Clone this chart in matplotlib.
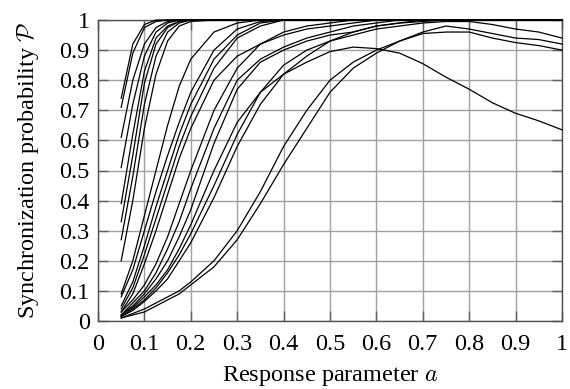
import matplotlib
matplotlib.use("Agg")
import matplotlib.pyplot as plt

plt.rcParams['font.family'] = ['Liberation Serif', 'DejaVu Serif']
plt.rcParams['mathtext.fontset'] = 'cm'

a_vals = [0.05, 0.075, 0.1, 0.125, 0.15, 0.175, 0.2, 0.25, 0.3, 0.35, 0.4, 0.45,
          0.5, 0.55, 0.6, 0.65, 0.7, 0.75, 0.8, 0.85, 0.9, 0.95, 1.0]

curves = {
    # fast group
    "A1": [0.74, 0.92, 0.985, 1.0, 1.0, 1.0, 1.0, 1.0, 1.0, 1.0, 1.0, 1.0, 1.0, 1.0, 1.0, 1.0, 1.0, 1.0, 1.0, 1.0, 1.0, 1.0, 1.0],
    "A2": [0.71, 0.89, 0.975, 0.995, 1.0, 1.0, 1.0, 1.0, 1.0, 1.0, 1.0, 1.0, 1.0, 1.0, 1.0, 1.0, 1.0, 1.0, 1.0, 1.0, 1.0, 1.0, 1.0],
    "A3": [0.61, 0.80, 0.92, 0.975, 0.995, 1.0, 1.0, 1.0, 1.0, 1.0, 1.0, 1.0, 1.0, 1.0, 1.0, 1.0, 1.0, 1.0, 1.0, 1.0, 1.0, 1.0, 1.0],
    "A4": [0.51, 0.72, 0.88, 0.96, 0.99, 1.0, 1.0, 1.0, 1.0, 1.0, 1.0, 1.0, 1.0, 1.0, 1.0, 1.0, 1.0, 1.0, 1.0, 1.0, 1.0, 1.0, 1.0],
    "A5": [0.39, 0.62, 0.83, 0.94, 0.98, 0.995, 1.0, 1.0, 1.0, 1.0, 1.0, 1.0, 1.0, 1.0, 1.0, 1.0, 1.0, 1.0, 1.0, 1.0, 1.0, 1.0, 1.0],
    "A6": [0.33, 0.55, 0.79, 0.92, 0.975, 0.995, 1.0, 1.0, 1.0, 1.0, 1.0, 1.0, 1.0, 1.0, 1.0, 1.0, 1.0, 1.0, 1.0, 1.0, 1.0, 1.0, 1.0],
    "A7": [0.27, 0.48, 0.72, 0.88, 0.96, 0.99, 1.0, 1.0, 1.0, 1.0, 1.0, 1.0, 1.0, 1.0, 1.0, 1.0, 1.0, 1.0, 1.0, 1.0, 1.0, 1.0, 1.0],
    "A8": [0.20, 0.40, 0.64, 0.82, 0.93, 0.98, 0.995, 1.0, 1.0, 1.0, 1.0, 1.0, 1.0, 1.0, 1.0, 1.0, 1.0, 1.0, 1.0, 1.0, 1.0, 1.0, 1.0],
    # medium-fast group
    "B1": [0.09, 0.20, 0.35, 0.50, 0.65, 0.78, 0.87, 0.96, 0.99, 1.0, 1.0, 1.0, 1.0, 1.0, 1.0, 1.0, 1.0, 1.0, 1.0, 1.0, 1.0, 1.0, 1.0],
    "B2": [0.08, 0.17, 0.30, 0.43, 0.55, 0.66, 0.76, 0.90, 0.97, 0.995, 1.0, 1.0, 1.0, 1.0, 1.0, 1.0, 1.0, 1.0, 1.0, 1.0, 1.0, 1.0, 1.0],
    "B3": [0.05, 0.13, 0.25, 0.38, 0.50, 0.62, 0.72, 0.87, 0.95, 0.99, 1.0, 1.0, 1.0, 1.0, 1.0, 1.0, 1.0, 1.0, 1.0, 1.0, 1.0, 1.0, 1.0],
    "B4": [0.04, 0.11, 0.22, 0.34, 0.46, 0.58, 0.68, 0.84, 0.94, 0.98, 1.0, 1.0, 1.0, 1.0, 1.0, 1.0, 1.0, 1.0, 1.0, 1.0, 1.0, 1.0, 1.0],
    "B5": [0.03, 0.09, 0.19, 0.30, 0.42, 0.54, 0.64, 0.80, 0.88, 0.92, 0.95, 0.97, 0.98, 0.99, 1.0, 1.0, 1.0, 1.0, 1.0, 1.0, 1.0, 1.0, 1.0],
    # middle group
    "C1": [0.03, 0.07, 0.12, 0.19, 0.28, 0.39, 0.50, 0.70, 0.84, 0.92, 0.96, 0.98, 0.99, 1.0, 1.0, 1.0, 1.0, 1.0, 1.0, 1.0, 1.0, 1.0, 1.0],
    "C2": [0.02, 0.06, 0.10, 0.16, 0.24, 0.33, 0.44, 0.64, 0.80, 0.87, 0.91, 0.94, 0.96, 0.98, 0.99, 1.0, 1.0, 1.0, 1.0, 1.0, 1.0, 1.0, 1.0],
    "C3": [0.02, 0.05, 0.09, 0.14, 0.20, 0.28, 0.37, 0.59, 0.77, 0.86, 0.90, 0.93, 0.95, 0.96, 0.98, 0.99, 1.0, 1.0, 1.0, 1.0, 1.0, 1.0, 1.0],
    "C4": [0.02, 0.045, 0.08, 0.12, 0.17, 0.24, 0.32, 0.50, 0.66, 0.76, 0.82, 0.86, 0.895, 0.91, 0.905, 0.89, 0.855, 0.81, 0.77, 0.725, 0.69, 0.665, 0.635],
    "C5": [0.015, 0.04, 0.07, 0.11, 0.16, 0.22, 0.29, 0.45, 0.62, 0.76, 0.85, 0.90, 0.93, 0.95, 0.97, 0.98, 0.99, 0.995, 0.995, 0.985, 0.97, 0.96, 0.94],
    "C6": [0.015, 0.035, 0.065, 0.10, 0.14, 0.20, 0.26, 0.41, 0.58, 0.72, 0.82, 0.88, 0.93, 0.96, 0.98, 0.99, 0.995, 1.0, 1.0, 1.0, 1.0, 1.0, 1.0],
    # slow group
    "D1": [0.01, 0.025, 0.04, 0.06, 0.08, 0.10, 0.13, 0.20, 0.30, 0.43, 0.58, 0.70, 0.80, 0.86, 0.90, 0.93, 0.955, 0.96, 0.96, 0.94, 0.925, 0.915, 0.90],
    "D2": [0.01, 0.02, 0.03, 0.05, 0.07, 0.09, 0.12, 0.18, 0.27, 0.39, 0.52, 0.64, 0.76, 0.84, 0.89, 0.93, 0.96, 0.98, 0.97, 0.955, 0.94, 0.935, 0.92],
}

tick_vals = [0, 0.1, 0.2, 0.3, 0.4, 0.5, 0.6, 0.7, 0.8, 0.9, 1]
tick_labels = ["0", "0.1", "0.2", "0.3", "0.4", "0.5", "0.6", "0.7", "0.8", "0.9", "1"]

fig = plt.figure(figsize=(5.7, 3.89), dpi=100)
ax = fig.add_axes([98/570, 68/389, 464/570, 301/389])

for name, vals in curves.items():
    ax.plot(a_vals, vals, color='black', lw=0.9, zorder=3, clip_on=False)

ax.set_xlim(0, 1)
ax.set_ylim(0, 1)
ax.set_xticks(tick_vals)
ax.set_xticklabels(tick_labels)
ax.set_yticks(tick_vals)
ax.set_yticklabels(tick_labels)
ax.grid(True, color='#a0a0a0', lw=1.0, zorder=1)
ax.tick_params(direction='in', length=7, width=1.0, color='#606060',
               labelsize=17.5, top=True, right=True)
ax.tick_params(axis='x', pad=9)
ax.tick_params(axis='y', pad=6)
for s in ax.spines.values():
    s.set_color('#505050')
    s.set_linewidth(1.0)

ax.set_xlabel(r"Response parameter $a$", fontsize=17.5, labelpad=7)
ax.set_ylabel(r"Synchronization probability $\mathcal{P}$", fontsize=17.5, labelpad=13)

fig.savefig("out.png", dpi=100)
